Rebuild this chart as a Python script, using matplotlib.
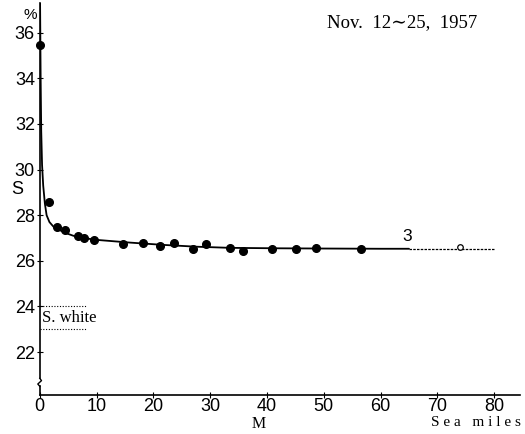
import matplotlib
matplotlib.use("Agg")
import matplotlib.pyplot as plt

# ---- data ----
dist_obs = [0.0, 1.6, 3.0, 4.5, 6.7, 7.8, 9.6, 14.7, 18.1, 21.2, 23.6, 27.0, 29.3,
            33.4, 35.7, 40.8, 45.1, 48.6, 56.5]
sal_obs = [35.47, 28.6, 27.5, 27.36, 27.1, 27.02, 26.92, 26.73, 26.78, 26.67, 26.8,
           26.53, 26.74, 26.56, 26.44, 26.54, 26.51, 26.56, 26.51]
dist_open = [74.0]
sal_open = [26.6]

curve_x = [0.05, 0.15, 0.25, 0.4, 0.6, 0.9, 1.2, 1.7, 2.4, 3.2, 4.1, 5.0, 5.9, 7.7,
           10.0, 15.9, 21.7, 27.6, 33.5, 42.0, 50.0, 60.0, 65.0]
curve_y = [37.3, 34.0, 31.7, 30.2, 29.3, 28.5, 28.0, 27.7, 27.5, 27.38, 27.28, 27.18,
           27.1, 27.0, 26.92, 26.8, 26.7, 26.62, 26.57, 26.55, 26.54, 26.53, 26.53]
ext_x = [65.0, 80.0]
ext_y = [26.53, 26.53]

white_upper = 24.0
white_lower = 23.0
white_xmax = 8.2

xticks = [0, 10, 20, 30, 40, 50, 60, 70, 80]
yticks = [22, 24, 26, 28, 30, 32, 34, 36]

SERIF = ['Liberation Serif', 'DejaVu Serif']
SANS = ['Liberation Sans Narrow', 'Liberation Sans', 'DejaVu Sans']

fig = plt.figure(figsize=(5.25, 4.34), dpi=100)
ax = fig.add_axes([0.0758, 0.0899, 0.9142, 0.903])
ax.set_xlim(0, 84.5)
ax.set_ylim(20.12, 37.3)

ax.plot(curve_x, curve_y, color='black', lw=1.3, solid_capstyle='round')
ax.plot(ext_x, ext_y, color='black', lw=0.9, ls=(0, (2, 1)))
ax.plot(dist_obs, sal_obs, 'o', color='black', ms=5.5, clip_on=False)
ax.plot(dist_open, sal_open, 'o', mfc='white', mec='black', ms=4, mew=0.9)

# S. white band
ax.plot([0, white_xmax], [white_upper, white_upper], color='black', lw=0.8, ls=(0, (1, 1.5)))
ax.plot([0, white_xmax], [white_lower, white_lower], color='black', lw=0.8, ls=(0, (1, 1.5)))
ax.text(0.4, (white_upper + white_lower) / 2, 'S. white', family=SERIF, fontsize=12,
        ha='left', va='center')

ax.text(64.6, 27.05, '3', family=SANS, fontsize=12.5, ha='center', va='center')

# spines
for s in ['top', 'right']:
    ax.spines[s].set_visible(False)
ax.spines['left'].set_bounds(20.85, 37.3)
ax.spines['left'].set_linewidth(1.2)
ax.spines['bottom'].set_linewidth(1.2)
# axis break squiggle
ax.plot([0, 0], [20.12, 20.5], color='black', lw=1.2, clip_on=False)
ax.plot([0, -0.35, 0.3, 0], [20.5, 20.6, 20.75, 20.85], color='black', lw=1.0, clip_on=False)

ax.set_xticks(xticks)
ax.set_xticklabels([str(v) for v in xticks], family=SANS, fontsize=13)
ax.set_yticks(yticks)
ax.set_yticklabels([str(v) for v in yticks], family=SANS, fontsize=13)
ax.tick_params(axis='both', direction='inout', length=4, width=0.8, pad=1.5)
ax.tick_params(axis='x', pad=0.5)

fig.text(30 / 525, 1 - 15 / 434, '%', family=SANS, fontsize=11, ha='center', va='center')
fig.text(17 / 525, 1 - 189 / 434, 'S', family=SANS, fontsize=13, ha='center', va='center')
fig.text(259 / 525, 1 - 424 / 434, 'M', family=SERIF, fontsize=11.5, ha='center', va='center')
fig.text(476 / 525, 1 - 423 / 434, 'S e a   m i l e s', family=SERIF, fontsize=11,
         ha='center', va='center')
fig.text(402 / 525, 1 - 23 / 434, 'Nov.  12\u223c25,  1957', family=SERIF, fontsize=13.5,
         ha='center', va='center')

fig.savefig('out.png', dpi=100)
